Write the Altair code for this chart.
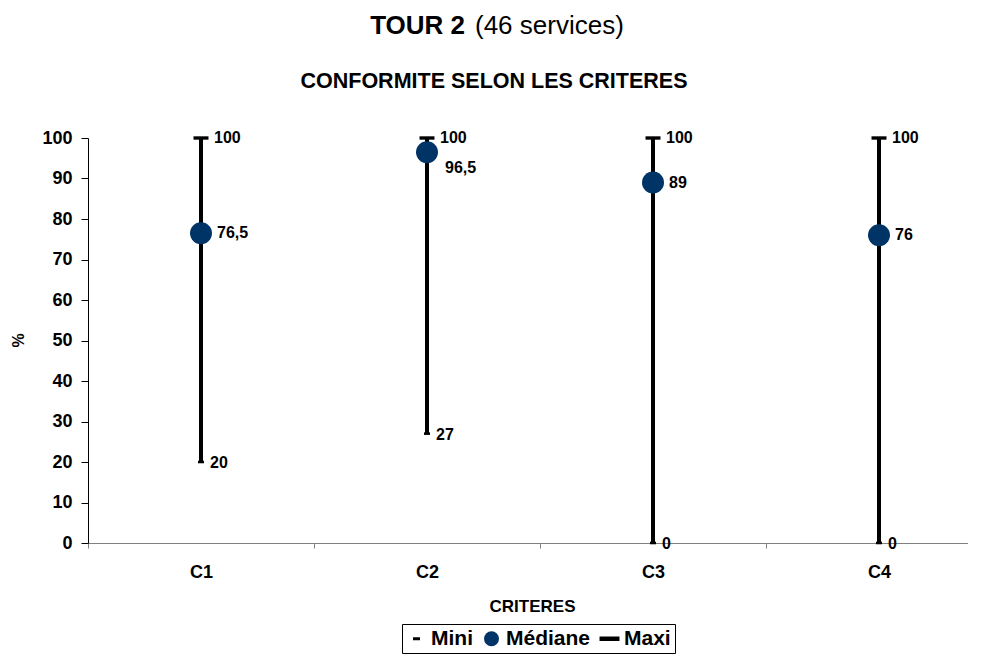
import altair as alt
import pandas as pd

categories = ["C1", "C2", "C3", "C4"]
mini = [20, 27, 0, 0]
mediane = [76.5, 96.5, 89, 76]
maxi = [100, 100, 100, 100]
series = ["Mini", "Médiane", "Maxi"]
title_bold = "TOUR 2"
title_rest = "(46 services)"
subtitle = "CONFORMITE SELON LES CRITERES"
x_title = "CRITERES"
y_title = "%"
y_ticks = list(range(0, 101, 10))

FONT = "Liberation Sans, Arial, sans-serif"
NAVY = "#003366"
COLORS = ["black", NAVY, "black"]
PATH_MINI = "M-0.47,-0.2H0.47V0.2H-0.47Z"
PATH_MAXI = "M-1.33,-0.3H1.33V0.3H-1.33Z"


def fmt(v):
    if float(v).is_integer():
        return str(int(v))
    return str(v).replace(".", ",")


wide = pd.DataFrame({"critere": categories, "Mini": mini, "Médiane": mediane, "Maxi": maxi})
long = wide.melt("critere", var_name="serie", value_name="valeur")
long["label"] = long["valeur"].map(fmt)

x_enc = alt.X(
    "critere:N",
    sort=categories,
    scale=alt.Scale(domain=categories, range=[0, 904], paddingInner=0, paddingOuter=0),
    axis=alt.Axis(
        title=x_title, titleFont=FONT, titleFontSize=17, titleFontWeight="bold",
        titleX=444, titleY=63, titleBaseline="middle", titleColor="black",
        labelFont=FONT, labelFontSize=18, labelFontWeight="bold", labelColor="black",
        labelAngle=0, labelPadding=15, tickBand="extent", tickSize=5,
        tickColor="#808080", domainColor="#808080", grid=False,
    ),
)
y_scale = alt.Scale(domain=[0, 100], nice=False, zero=True)
y_enc = alt.Y(
    "valeur:Q",
    scale=y_scale,
    axis=alt.Axis(
        values=y_ticks, title=y_title, titleFont=FONT, titleFontSize=16,
        titleFontWeight="bold", titleX=-70, titleY=202, titleBaseline="middle",
        titleColor="black",
        labelFont=FONT, labelFontSize=18, labelFontWeight="bold", labelColor="black",
        labelPadding=9, tickSize=7, tickColor="black", domainColor="black", grid=False,
    ),
)

rules = alt.Chart(wide).mark_rule(color="black", strokeWidth=4).encode(
    x=x_enc,
    y=alt.Y("Mini:Q", scale=y_scale),
    y2="Maxi:Q",
)


def pts(name, shape, color, size):
    return alt.Chart(long).transform_filter(alt.datum.serie == name).mark_point(
        filled=True, opacity=1, strokeWidth=0, shape=shape, color=color, size=size
    ).encode(x=x_enc, y=y_enc)


p_min = pts("Mini", PATH_MINI, "black", 164)
p_med = pts("Médiane", "circle", NAVY, 484)
p_max = pts("Maxi", PATH_MAXI, "black", 127)

legend = alt.Legend(title=None, orient="none", legendX=314, legendY=486,
                    direction="horizontal", strokeColor="black",
                    fillColor="white", padding=4, symbolSize=225,
                    labelFont=FONT, labelFontSize=21,
                    labelFontWeight="bold", labelColor="black",
                    columnPadding=8, labelOffset=4,
                    symbolStrokeWidth=0)

legend_layer = alt.Chart(long).transform_filter("false").mark_point(
    filled=True, opacity=1, strokeWidth=0, size=225
).encode(
    x=x_enc,
    y=y_enc,
    shape=alt.Shape("serie:N", sort=series,
                    scale=alt.Scale(domain=series, range=[PATH_MINI, "circle", PATH_MAXI]),
                    legend=legend),
    color=alt.Color("serie:N", sort=series,
                    scale=alt.Scale(domain=series, range=COLORS),
                    legend=legend),
)

base_txt = dict(font=FONT, fontSize=16, fontWeight="bold", color="black",
                align="left", baseline="middle")

lab_max = alt.Chart(long).transform_filter(alt.datum.serie == "Maxi").mark_text(
    dx=13, **base_txt).encode(x=x_enc, y=y_enc, text="label:N")
lab_med = alt.Chart(long).transform_filter(
    (alt.datum.serie == "Médiane") & (alt.datum.critere != "C2")).mark_text(
    dx=16, **base_txt).encode(x=x_enc, y=y_enc, text="label:N")
lab_med2 = alt.Chart(long).transform_filter(
    (alt.datum.serie == "Médiane") & (alt.datum.critere == "C2")).mark_text(
    dx=18, dy=16, **base_txt).encode(x=x_enc, y=y_enc, text="label:N")
lab_min = alt.Chart(long).transform_filter(alt.datum.serie == "Mini").mark_text(
    dx=9, dy=1, **base_txt).encode(x=x_enc, y=y_enc, text="label:N")

t1 = alt.Chart(pd.DataFrame({"t": [title_bold]})).mark_text(
    font=FONT, fontSize=26, fontWeight="bold", align="right", baseline="middle",
    color="black").encode(x=alt.value(377), y=alt.value(-112), text="t:N")
t2 = alt.Chart(pd.DataFrame({"t": [title_rest]})).mark_text(
    font=FONT, fontSize=26, fontWeight="normal", align="left", baseline="middle",
    color="black").encode(x=alt.value(387), y=alt.value(-112), text="t:N")
t3 = alt.Chart(pd.DataFrame({"t": [subtitle]})).mark_text(
    font=FONT, fontSize=21.5, fontWeight="bold", align="center", baseline="middle",
    color="black").encode(x=alt.value(406), y=alt.value(-56), text="t:N")

chart = alt.layer(rules, p_min, p_med, p_max, legend_layer,
                  lab_max, lab_med, lab_med2, lab_min, t1, t2, t3).properties(
    width=880, height=405,
    autosize=alt.AutoSizeParams(type="none"),
    padding={"left": 80, "top": 130, "right": 0, "bottom": 113},
).configure_view(stroke=None)

chart.save("out.html", embed_options={"renderer": "svg", "actions": False})
